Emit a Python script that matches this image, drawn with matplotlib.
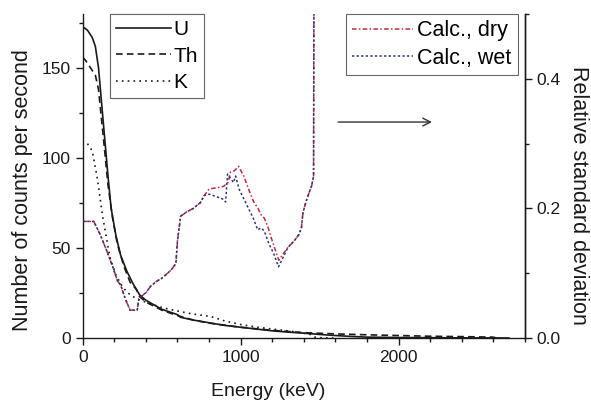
import matplotlib
matplotlib.use("Agg")
import matplotlib.pyplot as plt
from matplotlib.ticker import MultipleLocator

plt.rcParams['font.family'] = ['Liberation Sans', 'DejaVu Sans']

# Count-rate spectra (counts per second) for the three sources
u_energy = [0, 30, 60, 80, 100, 130, 160, 180, 210, 240, 280, 320, 360, 400, 500,
            600, 620, 700, 800, 900, 1000, 1100, 1200, 1300, 1400, 1500, 1600,
            1700, 1800, 2000, 2200, 2400, 2600, 2700]
u_counts = [173, 171, 167, 162, 150, 120, 90, 72, 57, 46, 37, 30, 24, 21, 16,
            13, 11.5, 10, 8.5, 7, 6, 5, 4, 3.3, 2.7, 2.0, 1.4,
            0.9, 0.5, 0.3, 0.2, 0.1, 0.05, 0.0]

th_energy = [0, 20, 50, 80, 100, 130, 160, 190, 220, 260, 300, 340, 360, 400, 500,
             600, 700, 800, 1000, 1200, 1400, 1600, 1800, 2000, 2200, 2400, 2600, 2620]
th_counts = [156, 154, 150, 146, 138, 112, 85, 66, 52, 40, 31, 27, 23, 20, 15.5,
             12.5, 10, 8.3, 6, 4.3, 3.0, 2.3, 1.8, 1.4, 1.0, 0.8, 0.5, 0.0]

k_energy = [30, 60, 90, 127, 172, 210, 255, 300, 350, 427, 500, 600, 700, 809,
            900, 1000, 1108, 1200, 1300, 1382, 1440, 1470, 1500, 1600]
k_counts = [108, 104, 90, 67, 45, 35, 28, 24, 21.5, 19, 17, 15, 13.3, 12,
            9.5, 7.5, 6, 5, 4, 3, 2, 0.5, 0.2, 0.0]

# Relative standard deviation of the calculated spectra
dry_energy = [0, 70, 80, 110, 150, 190, 220, 240, 270, 300, 345, 355, 370, 400, 430,
              470, 500, 560, 590, 600, 620, 660, 700, 745, 770, 800, 850, 892, 920,
              936, 960, 987, 1020, 1050, 1083, 1110, 1130, 1150, 1172, 1200, 1242,
              1270, 1300, 1340, 1370, 1385, 1395, 1420, 1450, 1462, 1465]
rsd_dry = [0.18, 0.18, 0.175, 0.16, 0.136, 0.11, 0.088, 0.082, 0.06, 0.043, 0.043,
           0.06, 0.064, 0.07, 0.08, 0.088, 0.092, 0.105, 0.115, 0.15, 0.188, 0.195,
           0.2, 0.209, 0.22, 0.23, 0.232, 0.234, 0.24, 0.256, 0.258, 0.265, 0.25,
           0.23, 0.21, 0.2, 0.19, 0.185, 0.172, 0.15, 0.12, 0.13, 0.14, 0.15, 0.16,
           0.17, 0.194, 0.215, 0.235, 0.25, 0.6]

wet_energy = [0, 70, 80, 110, 150, 190, 220, 240, 270, 300, 345, 355, 370, 400, 430,
              470, 500, 560, 590, 600, 620, 660, 700, 745, 770, 800, 850, 892, 905,
              917, 940, 955, 968, 990, 1020, 1050, 1080, 1108, 1130, 1150, 1180, 1210,
              1240, 1270, 1300, 1340, 1370, 1385, 1395, 1420, 1450, 1462, 1465]
rsd_wet = [0.18, 0.18, 0.175, 0.16, 0.136, 0.11, 0.088, 0.082, 0.06, 0.043, 0.043,
           0.06, 0.064, 0.07, 0.08, 0.088, 0.092, 0.105, 0.115, 0.15, 0.188, 0.195,
           0.2, 0.209, 0.22, 0.222, 0.218, 0.214, 0.21, 0.253, 0.245, 0.24, 0.25,
           0.23, 0.215, 0.2, 0.185, 0.167, 0.17, 0.165, 0.145, 0.13, 0.11, 0.125,
           0.14, 0.15, 0.16, 0.17, 0.194, 0.215, 0.235, 0.25, 0.6]

fig = plt.figure(figsize=(5.91, 4.01), dpi=100)
ax = fig.add_axes([0.140, 0.157, 0.748, 0.808])
ax2 = ax.twinx()

ink = '#1a1a1a'
l_u, = ax.plot(u_energy, u_counts, color=ink, lw=1.2, ls='-', label='U')
l_th, = ax.plot(th_energy, th_counts, color=ink, lw=1.2, ls=(0, (4, 2.5)), label='Th')
l_k, = ax.plot(k_energy, k_counts, color=ink, lw=1.2, ls=(0, (1, 2.5)), label='K')

l_dry, = ax2.plot(dry_energy, rsd_dry, color='#c4283c', lw=1.1,
                  ls=(0, (3, 1.5, 1, 1.5)), label='Calc., dry')
l_wet, = ax2.plot(wet_energy, rsd_wet, color='#2c3478', lw=1.1,
                  ls=(0, (1.5, 1.5)), label='Calc., wet')

ax.set_xlim(0, 2800)
ax.set_ylim(0, 180)
ax2.set_ylim(0, 0.5)

ax.xaxis.set_major_locator(MultipleLocator(1000))
ax.xaxis.set_minor_locator(MultipleLocator(200))
ax.yaxis.set_major_locator(MultipleLocator(50))
ax.yaxis.set_minor_locator(MultipleLocator(25))
ax2.yaxis.set_major_locator(MultipleLocator(0.2))
ax2.yaxis.set_minor_locator(MultipleLocator(0.1))
ax2.yaxis.set_major_formatter(plt.FuncFormatter(lambda v, p: f"{v:.1f}"))

for a in (ax, ax2):
    a.spines['top'].set_visible(False)
    for s in a.spines.values():
        s.set_color(ink)
        s.set_linewidth(1.0)
    a.tick_params(which='major', direction='out', length=5, width=1.0,
                  colors=ink, labelsize=12.5)
    a.tick_params(which='minor', direction='out', length=3, width=1.0, colors=ink)
ax2.spines['left'].set_visible(False)
ax2.spines['bottom'].set_visible(False)

ax.set_xlabel('Energy (keV)', fontsize=14, color=ink, labelpad=13)
ax.set_ylabel('Number of counts per second', fontsize=15.5, color=ink, labelpad=6)
ax2.set_ylabel('Relative standard deviation', fontsize=15.5, color=ink,
               rotation=-90, labelpad=20)
ax.xaxis.label.set_x(0.42)
ax.yaxis.label.set_y(0.457)
ax2.yaxis.label.set_y(0.44)

leg1 = ax.legend(handles=[l_u, l_th, l_k], loc='upper left',
                 bbox_to_anchor=(0.062, 1.0), fontsize=15, handlelength=2.6,
                 handletextpad=0.15, labelspacing=0.35, borderpad=0.3,
                 borderaxespad=0.0, fancybox=False, framealpha=1,
                 edgecolor='#666666')
leg1.get_frame().set_linewidth(0.8)
ax.add_artist(leg1)

leg2 = ax2.legend(handles=[l_dry, l_wet], loc='upper right',
                  bbox_to_anchor=(0.984, 1.0), fontsize=15.5, handlelength=2.8,
                  handletextpad=0.2, labelspacing=0.3, borderpad=0.3,
                  borderaxespad=0.0, fancybox=False, framealpha=1,
                  edgecolor='#666666')
leg2.get_frame().set_linewidth(0.8)

ax.annotate('', xy=(2230, 120), xytext=(1600, 120),
            arrowprops=dict(arrowstyle='->', color='#333333', lw=1.0,
                            mutation_scale=14))

fig.savefig('out.png', dpi=100, facecolor='white')
